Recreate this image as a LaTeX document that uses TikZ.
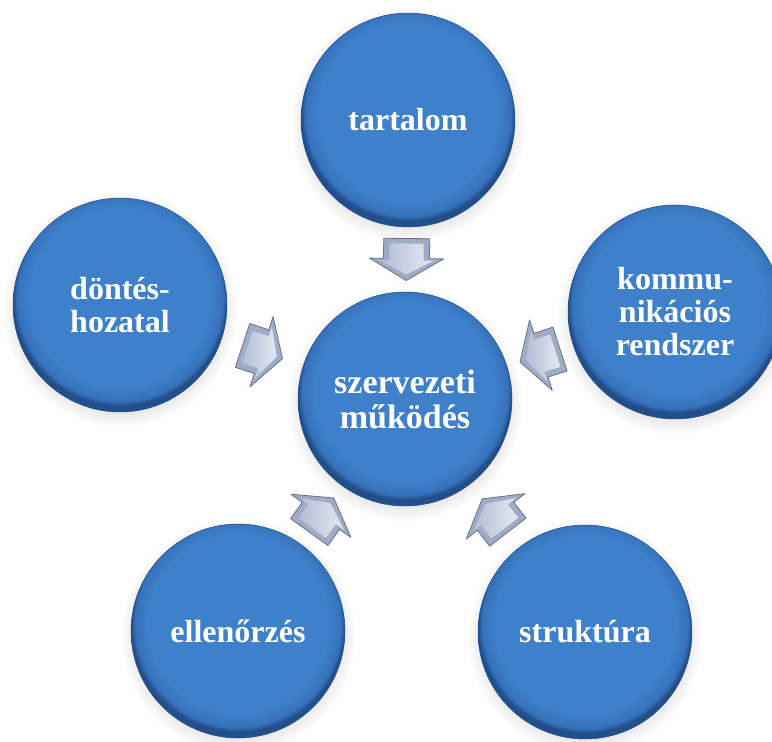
\documentclass[tikz,border=0pt]{standalone}
\usepackage{fontspec}
\setmainfont{Liberation Serif}
\usetikzlibrary{calc,shadows}
\definecolor{cA}{RGB}{62,128,202}
\definecolor{cB}{RGB}{54,114,188}
\definecolor{cC}{RGB}{34,78,138}
\definecolor{arOut}{RGB}{160,172,196}
\definecolor{arEdge}{RGB}{104,114,138}
\definecolor{arHiA}{RGB}{228,233,243}
\definecolor{arHiB}{RGB}{178,190,212}
\pgfdeclareradialshading{bluecirc}{\pgfpoint{0bp}{3bp}}{color(0bp)=(cA); color(21bp)=(cA); color(24bp)=(cB); color(25bp)=(cC); color(50bp)=(cC)}
\tikzset{
  circ/.style={circle, minimum size=214pt, inner sep=0pt, shading=bluecirc, shade,
    draw=cC, line width=0.5pt, text=white, align=center,
    font=\fontsize{32}{33}\selectfont\bfseries,
    circular drop shadow={shadow xshift=0pt, shadow yshift=-4pt, opacity=0.2}},
  bigtext/.style={font=\fontsize{34}{35}\selectfont\bfseries},
  arrowbody/.style={fill=arOut, draw=arEdge, line width=0.8pt, line join=round},
  arrowface/.style={left color=arHiB, right color=arHiA, draw=none}
}
\newcommand\flowarrow[2]{%
  \path let \p1=($(#2.center)-(#1.center)$), \n1={atan2(\y1,\x1)} in \pgfextra{\xdef\flang{\n1}};
  \begin{scope}[shift={($(#1.center)!0.5!(#2.center)$)}, rotate=\flang]
    \draw[arrowbody] (-21,-23) -- (-1,-23) -- (-1,-37) -- (21,0) -- (-1,37) -- (-1,23) -- (-21,23) -- cycle;
    \path[arrowface] (-16,-17) -- (1,-17) -- (1,-27) -- (15,0) -- (1,27) -- (1,17) -- (-16,17) -- cycle;
  \end{scope}}
\begin{document}
\begin{tikzpicture}[x=1pt,y=-1pt]
\useasboundingbox (0,0) rectangle (772,742);
\fill[white] (0,0) rectangle (772,742);
\node[circ] (top) at (408,120) {tartalom};
\node[circ] (left) at (120,305) {döntés-\\hozatal};
\node[circ] (right) at (675,312) {kommu-\\nikációs\\rendszer};
\node[circ] (bl) at (238,631) {ellenőrzés};
\node[circ] (br) at (585,632) {struktúra};
\node[circ, bigtext] (c) at (405,399) {szervezeti\\működés};
\flowarrow{top}{c}
\flowarrow{left}{c}
\flowarrow{right}{c}
\flowarrow{bl}{c}
\flowarrow{br}{c}
\end{tikzpicture}
\end{document}
